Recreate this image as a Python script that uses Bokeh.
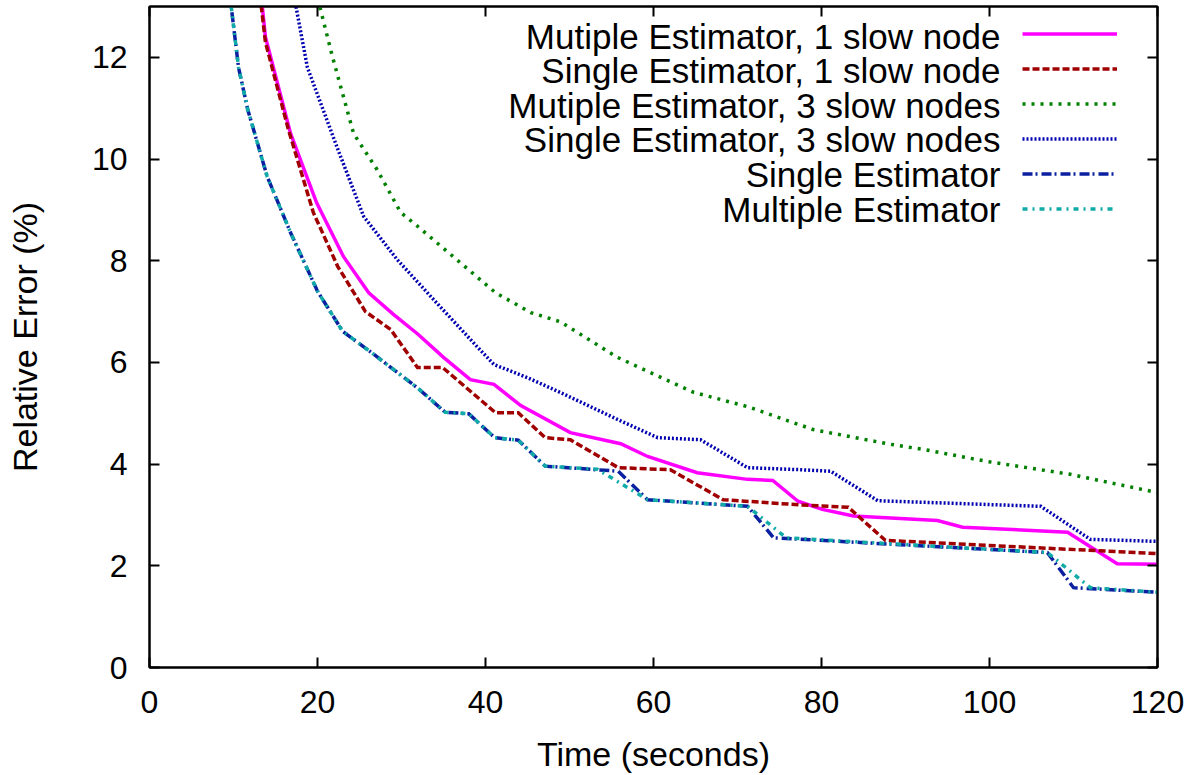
from bokeh.plotting import figure
from bokeh.models import (Range1d, FixedTicker, LinearAxis, Legend, LegendItem, Label)
from bokeh.embed import file_html
from bokeh.resources import INLINE

# ---------------- data ----------------
series_names = [
    "Mutiple Estimator, 1 slow node",
    "Single Estimator, 1 slow node",
    "Mutiple Estimator, 3 slow nodes",
    "Single Estimator, 3 slow nodes",
    "Single Estimator",
    "Multiple Estimator",
]

mult1_x = [12.8, 13.8, 16.8, 19.9, 23.1, 26.1, 29.0, 32.0, 35.0, 38.2, 41.0, 44.2, 50.1,
           56.1, 59.3, 65.2, 71.2, 74.2, 77.2, 80.1, 83.8, 93.8, 96.8, 109.3, 115.2, 120]
mult1_y = [14.0, 12.4, 10.5, 9.14, 8.08, 7.37, 6.95, 6.55, 6.1, 5.66, 5.57, 5.15, 4.62,
           4.40, 4.15, 3.83, 3.70, 3.68, 3.27, 3.11, 2.98, 2.89, 2.76, 2.66, 2.04, 2.03]

single1_x = [12.6, 13.8, 16.5, 19.5, 22.4, 25.7, 28.7, 31.9, 34.9, 41.2, 43.9, 47.1, 50.1,
             55.8, 62.0, 68.3, 77.3, 83.2, 87.6, 120]
single1_y = [14.0, 12.3, 10.6, 8.95, 7.89, 7.0, 6.65, 5.9, 5.9, 5.01, 5.01, 4.52, 4.48,
             3.93, 3.89, 3.30, 3.2, 3.15, 2.5, 2.24]

mult3_x = [19.5, 21.8, 24.3, 27.1, 29.9, 31.9, 41.2, 45.4, 48.9, 55.7, 64.8, 71.2, 79.0,
           88.2, 92.1, 99.8, 109.6, 113.6, 120]
mult3_y = [13.5, 12.0, 10.5, 9.79, 8.95, 8.68, 7.37, 6.98, 6.8, 6.1, 5.41, 5.13, 4.68,
           4.39, 4.29, 4.05, 3.8, 3.66, 3.44]

single3_x = [16.3, 18.8, 22.4, 25.5, 29.5, 33.8, 39.0, 41.0, 45.0, 48.9, 55.7, 60.5, 65.6,
             71.2, 77.5, 81.1, 86.7, 106.1, 112.0, 120]
single3_y = [14.0, 11.8, 10.2, 8.87, 8.02, 7.24, 6.31, 5.96, 5.70, 5.41, 4.88, 4.52, 4.48,
             3.93, 3.89, 3.86, 3.28, 3.17, 2.52, 2.48]

single_x = [9.0, 10.6, 11.7, 14.0, 16.8, 20.0, 23.0, 26.3, 31.9, 35.2, 38.0, 41.1, 43.9,
            47.1, 55.8, 59.3, 71.2, 74.3, 106.9, 110.0, 120]
single_y = [14.0, 11.8, 10.97, 9.66, 8.55, 7.4, 6.61, 6.21, 5.5, 5.02, 4.99, 4.52, 4.47,
            3.96, 3.86, 3.30, 3.17, 2.55, 2.26, 1.57, 1.48]

multi_x = [9.0, 10.6, 11.7, 14.0, 16.8, 20.0, 23.0, 26.3, 31.9, 35.2, 38.0, 41.1, 43.9,
           47.1, 53.3, 59.3, 71.2, 75.8, 106.9, 112.0, 120]
multi_y = [14.0, 11.8, 10.97, 9.66, 8.55, 7.4, 6.61, 6.21, 5.5, 5.02, 4.99, 4.52, 4.47,
           3.96, 3.90, 3.30, 3.17, 2.55, 2.26, 1.57, 1.48]

x_ticks = [0, 20, 40, 60, 80, 100, 120]
y_ticks = [0, 2, 4, 6, 8, 10, 12]

# ---------------- styles ----------------
FONT = "Liberation Sans"
styles = [
    dict(color="#ff00ff", dash="solid"),
    dict(color="#a00000", dash="7 3"),
    dict(color="#008000", dash="3 6"),
    dict(color="#0000b0", dash="2 2"),
    dict(color="#0a20a0", dash="10 3 2 4"),
    dict(color="#10aaa8", dash="5 5 2 5"),
]
data = [(mult1_x, mult1_y), (single1_x, single1_y), (mult3_x, mult3_y),
        (single3_x, single3_y), (single_x, single_y), (multi_x, multi_y)]

FH = 661
p = figure(frame_width=1008, frame_height=FH,
           x_range=Range1d(0, 120), y_range=Range1d(0, 13),
           output_backend="svg", toolbar_location=None,
           min_border_left=149, min_border_right=33,
           min_border_top=6, min_border_bottom=0)
p.background_fill_color = "white"
p.border_fill_color = "white"
p.grid.visible = False
p.outline_line_color = "black"
p.outline_line_width = 2
p.outline_line_alpha = 1

for ax, ticks in ((p.xaxis[0], x_ticks), (p.yaxis[0], y_ticks)):
    ax.ticker = FixedTicker(ticks=ticks)
    ax.major_tick_in = 10
    ax.major_tick_out = 0
    ax.minor_tick_line_color = None
    ax.major_tick_line_width = 2
    ax.axis_line_width = 2
    ax.major_label_text_font = FONT
    ax.major_label_text_font_size = "32px"
    ax.major_label_text_color = "black"
    ax.axis_label_text_font = FONT
    ax.axis_label_text_font_size = "34px"
    ax.axis_label_text_font_style = "normal"
    ax.axis_label_text_color = "black"

p.xaxis.axis_label = "Time (seconds)"
p.yaxis.axis_label = "Relative Error (%)"
p.xaxis.major_label_standoff = 23
p.xaxis.axis_label_standoff = 19
p.yaxis.major_label_standoff = 22
p.yaxis.axis_label_standoff = 45

# mirrored ticks on top and right
top_ax = LinearAxis(ticker=FixedTicker(ticks=x_ticks), major_tick_in=10, major_tick_out=0,
                    minor_tick_line_color=None, major_tick_line_width=2, axis_line_width=2,
                    major_label_text_font_size="0px", major_label_standoff=0,
                    major_label_overrides={t: "" for t in x_ticks})
right_ax = LinearAxis(ticker=FixedTicker(ticks=y_ticks), major_tick_in=10, major_tick_out=0,
                      minor_tick_line_color=None, major_tick_line_width=2, axis_line_width=2,
                      major_label_text_font_size="0px", major_label_standoff=0,
                      major_label_overrides={t: "" for t in y_ticks})
p.add_layout(top_ax, "above")
p.add_layout(right_ax, "right")

renderers = []
for (xs, ys), st in zip(data, styles):
    r = p.line(xs, ys, line_color=st["color"], line_width=3.5, line_dash=st["dash"],
               line_join="miter")
    renderers.append(r)

legend = Legend(items=[LegendItem(label=" ", renderers=[r]) for r in renderers],
                location="top_right", margin=10, padding=0, spacing=0,
                glyph_width=95, glyph_height=35, label_standoff=0, label_width=30,
                label_height=1, label_text_font_size="1px",
                border_line_alpha=0, background_fill_alpha=0)
p.add_layout(legend, "center")

for k, name in enumerate(series_names):
    p.add_layout(Label(x=851, y=FH - 29.5 - 34.6 * k, x_units="screen", y_units="screen",
                       text=name, text_align="right", text_baseline="middle",
                       text_font=FONT, text_font_size="35px", text_color="black"))

open("out.html", "w").write(file_html(p, INLINE))
